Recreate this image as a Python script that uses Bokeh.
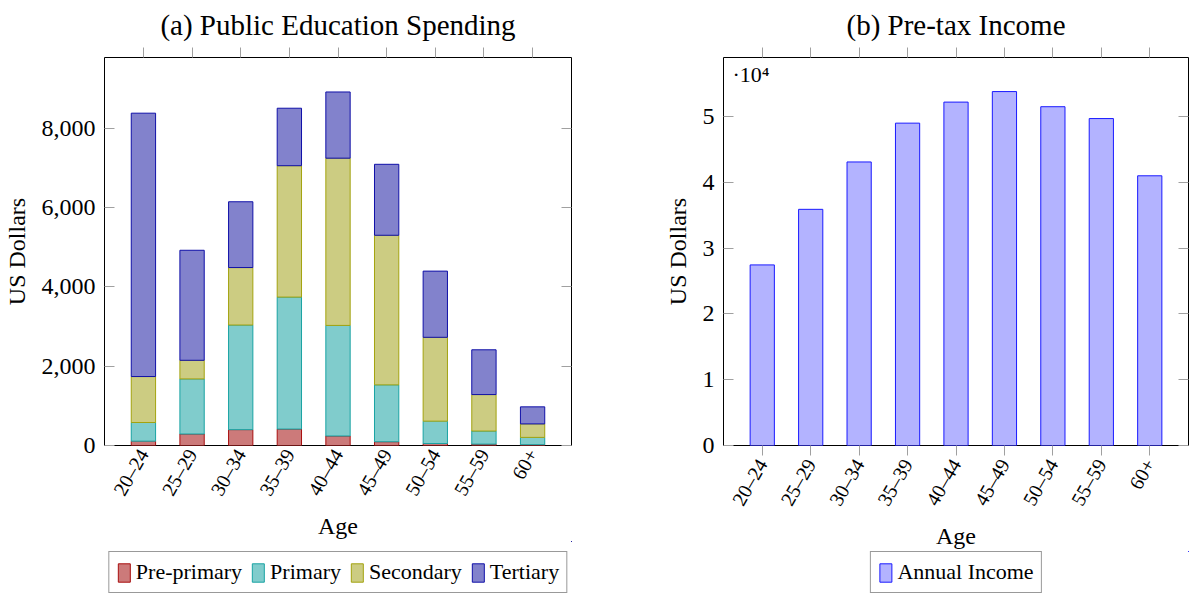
import math

from bokeh.embed import file_html
from bokeh.layouts import column, row
from bokeh.models import (ColumnDataSource, FixedTicker, Label, Legend, LegendItem,
                          LinearAxis, NumeralTickFormatter, Range1d)
from bokeh.plotting import figure
from bokeh.resources import INLINE

# data
ages = ["20–24", "25–29", "30–34", "35–39", "40–44", "45–49", "50–54", "55–59", "60+"]
levels = ["Pre-primary", "Primary", "Secondary", "Tertiary"]
pre_primary = [110, 290, 400, 415, 240, 95, 50, 35, 20]
primary = [470, 1390, 2640, 3330, 2790, 1435, 565, 330, 185]
secondary = [1160, 470, 1450, 3315, 4220, 3775, 2115, 920, 340]
tertiary = [6645, 2776, 1660, 1450, 1670, 1790, 1670, 1130, 430]
income = [27450, 35900, 43100, 49000, 52200, 53800, 51500, 49700, 41000]

spend_ticks = [0, 2000, 4000, 6000, 8000]
income_ticks = [0, 10000, 20000, 30000, 40000, 50000]
income_tick_labels = ["0", "1", "2", "3", "4", "5"]

FONT = "Liberation Serif"
TICK_GRAY = "#a0a0a0"
fills = ["#cc7a7a", "#80cccc", "#cccc82", "#8282cc"]
edges = ["#a80f0f", "#19a3a3", "#a3a30f", "#1010a8"]
income_fill = "#b3b3ff"
income_edge = "#1a1aff"

xs = list(range(len(ages)))


def hidden_label_axis(ticks, tick_in, tick_out):
    # axis used only for its tick marks
    return LinearAxis(
        ticker=FixedTicker(ticks=ticks),
        major_tick_in=tick_in,
        major_tick_out=tick_out,
        major_tick_line_color=TICK_GRAY,
        minor_tick_line_color=None,
        axis_line_color=None,
        major_label_text_color=None,
        major_label_text_font_size="1px",
        major_label_standoff=0,
    )


def make_figure(title, y_end, frame_w, border_left, border_right, x_tick_out):
    p = figure(
        frame_width=frame_w,
        frame_height=388,
        x_range=Range1d(-0.8, len(ages) - 0.2),
        y_range=Range1d(0, y_end),
        output_backend="svg",
        toolbar_location=None,
        min_border_left=border_left,
        min_border_right=border_right,
        min_border_top=0,
        min_border_bottom=0,
        outline_line_color="black",
        outline_line_width=1,
    )
    p.grid.visible = False
    p.title.text = title
    p.title.text_font = FONT
    p.title.text_font_size = "29px"
    p.title.text_font_style = "normal"
    p.title.text_color = "black"
    p.title.align = "center"
    p.title.standoff = 13

    xa = p.xaxis[0]
    xa.ticker = FixedTicker(ticks=xs)
    xa.major_label_overrides = {i: a for i, a in zip(xs, ages)}
    xa.major_label_orientation = math.pi / 3
    xa.major_label_text_font = FONT
    xa.major_label_text_font_size = "20px"
    xa.major_label_text_color = "black"
    xa.major_label_standoff = 5
    xa.major_tick_in = 0
    xa.major_tick_out = x_tick_out
    xa.major_tick_line_color = TICK_GRAY
    xa.minor_tick_line_color = None
    xa.axis_line_color = None
    xa.axis_label = "Age"
    xa.axis_label_text_font = FONT
    xa.axis_label_text_font_size = "24px"
    xa.axis_label_text_font_style = "normal"
    xa.axis_label_text_color = "black"

    ya = p.yaxis[0]
    ya.major_tick_in = 10
    ya.major_tick_out = 0
    ya.major_tick_line_color = TICK_GRAY
    ya.minor_tick_line_color = None
    ya.axis_line_color = None
    ya.major_label_text_font = FONT
    ya.major_label_text_font_size = "24px"
    ya.major_label_text_color = "black"
    ya.major_label_standoff = 9
    ya.axis_label = "US Dollars"
    ya.axis_label_text_font = FONT
    ya.axis_label_text_font_size = "24px"
    ya.axis_label_text_font_style = "normal"
    ya.axis_label_text_color = "black"
    ya.axis_label_standoff = 9

    p.add_layout(hidden_label_axis(xs, 0, 10), "above")
    return p


def legend_strip(frame_w, frame_h, border_left, border_right):
    # strip under a chart that only carries its legend box; both ranges sit
    # away from the data so the bars drawn for the legend stay out of view
    lp = figure(
        frame_width=frame_w,
        frame_height=frame_h,
        x_range=Range1d(-30, -20),
        y_range=Range1d(-2, -1),
        x_axis_location=None,
        y_axis_location=None,
        output_backend="svg",
        toolbar_location=None,
        min_border_left=border_left,
        min_border_right=border_right,
        min_border_top=0,
        min_border_bottom=0,
        outline_line_color=None,
    )
    lp.grid.visible = False
    return lp


def strip_legend(items):
    return Legend(
        items=items,
        orientation="horizontal",
        location="bottom_center",
        label_text_font=FONT,
        label_text_font_size="22px",
        label_text_color="black",
        glyph_width=15,
        glyph_height=23,
        label_standoff=5,
        spacing=8,
        padding=7,
        margin=3,
        border_line_color="#333333",
        border_line_width=1,
        background_fill_color="white",
    )


# (a) stacked education spending
p1 = make_figure("(a) Public Education Spending", 9790, 467, 101, 44, 0)
p1.xaxis[0].axis_label_standoff = 14
p1.yaxis[0].ticker = FixedTicker(ticks=spend_ticks)
p1.yaxis[0].formatter = NumeralTickFormatter(format="0,0")
p1.add_layout(hidden_label_axis(spend_ticks, 10, 0), "right")

src1 = ColumnDataSource(dict(
    x=xs,
    **{"Pre-primary": pre_primary, "Primary": primary,
       "Secondary": secondary, "Tertiary": tertiary}
))
p1.vbar_stack(levels, x="x", width=0.5, source=src1,
              fill_color=fills, line_color=edges, line_width=1)

leg1 = legend_strip(467, 55, 101, 44)
lr1 = leg1.vbar_stack(levels, x="x", width=0.5, source=src1,
                      fill_color=fills, line_color=edges, line_width=1)
leg1.add_layout(strip_legend([LegendItem(label=l, renderers=[r]) for l, r in zip(levels, lr1)]))

# (b) income bars
p2 = make_figure("(b) Pre-tax Income", 58980, 465, 108, 2, 10)
p2.xaxis[0].axis_label_standoff = 9
p2.yaxis[0].ticker = FixedTicker(ticks=income_ticks)
p2.yaxis[0].major_label_overrides = {t: s for t, s in zip(income_ticks, income_tick_labels)}
p2.add_layout(hidden_label_axis(income_ticks, 10, 0), "right")

src2 = ColumnDataSource(dict(x=xs, income=income))
p2.vbar(x="x", top="income", width=0.5, source=src2,
        fill_color=income_fill, line_color=income_edge, line_width=1)

leg2 = legend_strip(465, 45, 108, 2)
lr2 = leg2.vbar(x="x", top="income", width=0.5, source=src2,
                fill_color=income_fill, line_color=income_edge, line_width=1)
leg2.add_layout(strip_legend([LegendItem(label="Annual Income", renderers=[lr2])]))

# axis multiplier, top-left corner of the income frame
p2.add_layout(Label(
    x=p2.x_range.start, y=p2.y_range.end, x_units="data", y_units="data",
    x_offset=9, y_offset=-4, text="·10⁴", text_baseline="top",
    text_font=FONT, text_font_size="22px", text_color="black",
))

layout = row(column(p1, leg1), column(p2, leg2))
open("out.html", "w").write(file_html(layout, INLINE))
